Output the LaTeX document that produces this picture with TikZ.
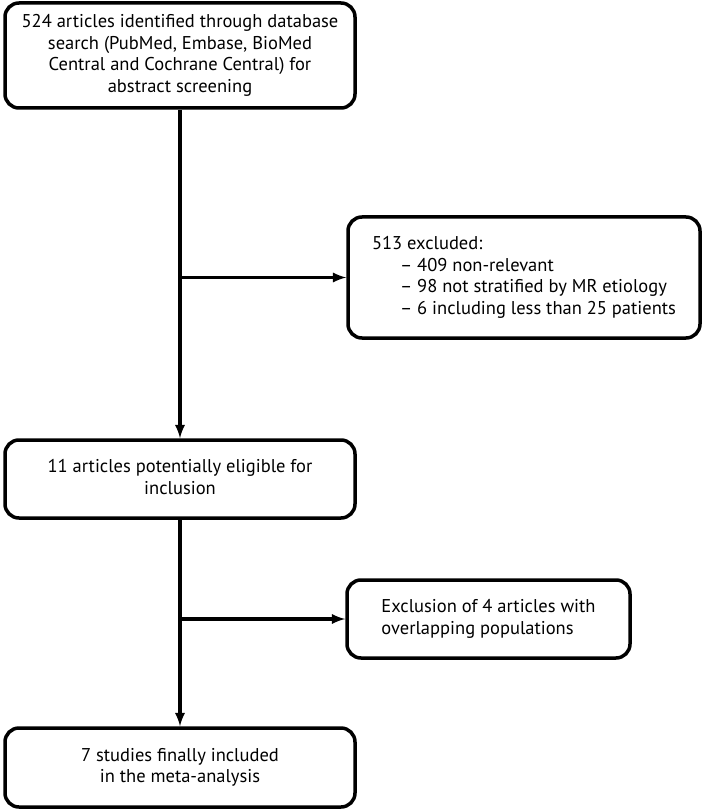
\documentclass[tikz,border=0pt]{standalone}
\usepackage{fontspec}
\setmainfont{PT Sans}
\usepackage{tikz}
\usetikzlibrary{shapes,arrows,positioning,calc}

\newcommand{\midlines}[1]{\begin{tabular}{@{}c@{}}#1\end{tabular}}
\newcommand{\leftlines}[1]{\begin{tabular}{@{}l@{}}#1\end{tabular}}

\tikzset{
  stagebox/.style={draw,line width=3.5pt,rounded corners=14pt,
    font=\fontsize{18.5}{21.5}\selectfont,inner sep=0pt},
  flowarrow/.style={line width=3.5pt,-latex}
}

\begin{document}
\begin{tikzpicture}[x=1pt,y=-1pt]
  \useasboundingbox (0,0) rectangle (709,810);

  % Main column of stages
  \node[stagebox,minimum width=350pt,minimum height=105pt] (found) at (180,55.5)
    {\midlines{524 articles identified through database\\search (PubMed, Embase, BioMed\\Central and Cochrane Central) for\\abstract screening}};
  \node[stagebox,minimum width=350pt,minimum height=78pt] (eligible) at (180,479)
    {\midlines{11 articles potentially eligible for\\inclusion}};
  \node[stagebox,minimum width=350pt,minimum height=79pt] (included) at (180,767.5)
    {\midlines{7 studies finally included\\in the meta-analysis}};

  % Exclusion boxes on the right
  \node[stagebox,minimum width=352pt,minimum height=121pt] (excluded) at (524,277.5)
    {\leftlines{513 excluded:\\
     \hspace*{28pt}– 409 non-relevant\\
     \hspace*{28pt}– 98 not stratified by MR etiology\\
     \hspace*{28pt}– 6 including less than 25 patients}};
  \node[stagebox,minimum width=283pt,minimum height=78pt] (overlap) at (488.5,619)
    {\leftlines{Exclusion of 4 articles with\\overlapping populations}};

  % Branch points on the main line
  \coordinate (split1) at (found.south |- excluded.west);
  \coordinate (split2) at (eligible.south |- overlap.west);

  % Connectors
  \draw[flowarrow] (found.south) -- (eligible.north);
  \draw[flowarrow] (split1) -- (excluded.west);
  \draw[flowarrow] (eligible.south) -- (included.north);
  \draw[flowarrow] (split2) -- (overlap.west);
\end{tikzpicture}
\end{document}
